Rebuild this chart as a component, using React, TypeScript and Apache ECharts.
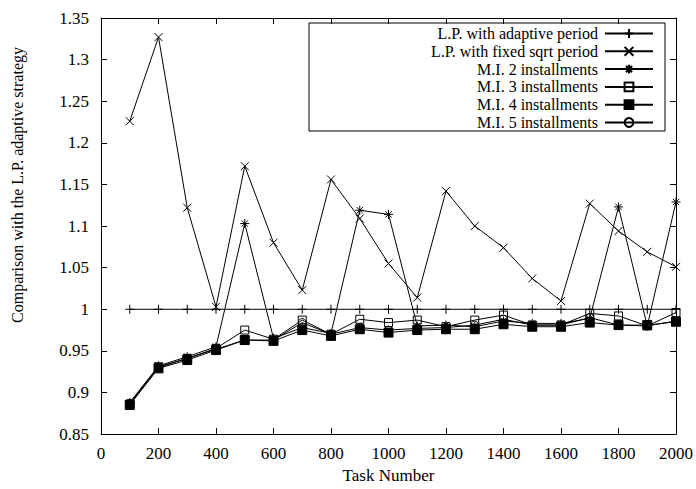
import React, { useEffect, useRef } from "react";
import * as echarts from "echarts";

const taskNumbers = [100, 200, 300, 400, 500, 600, 700, 800, 900, 1000, 1100, 1200, 1300, 1400, 1500, 1600, 1700, 1800, 1900, 2000];
const adaptive = [1, 1, 1, 1, 1, 1, 1, 1, 1, 1, 1, 1, 1, 1, 1, 1, 1, 1, 1, 1];
const sqrtPeriod = [1.226, 1.327, 1.122, 1.003, 1.172, 1.080, 1.023, 1.156, 1.109, 1.055, 1.014, 1.142, 1.100, 1.074, 1.037, 1.010, 1.127, 1.094, 1.069, 1.051];
const mi2 = [0.888, 0.932, 0.943, 0.955, 1.103, 0.965, 0.978, 0.971, 1.119, 1.114, 0.980, 0.981, 0.979, 0.986, 0.983, 0.983, 0.989, 1.123, 0.980, 1.129];
const mi3 = [0.886, 0.931, 0.941, 0.953, 0.975, 0.964, 0.987, 0.970, 0.988, 0.984, 0.987, 0.979, 0.987, 0.993, 0.981, 0.981, 0.995, 0.992, 0.980, 0.996];
const mi4 = [0.885, 0.929, 0.939, 0.951, 0.963, 0.962, 0.975, 0.968, 0.976, 0.972, 0.975, 0.976, 0.976, 0.982, 0.979, 0.979, 0.984, 0.981, 0.981, 0.985];
const mi5 = [0.887, 0.930, 0.941, 0.952, 0.963, 0.963, 0.984, 0.970, 0.978, 0.975, 0.977, 0.978, 0.981, 0.988, 0.981, 0.981, 0.990, 0.981, 0.980, 0.986];

const seriesNames = [
  "L.P. with adaptive period",
  "L.P. with fixed sqrt period",
  "M.I. 2 installments",
  "M.I. 3 installments",
  "M.I. 4 installments",
  "M.I. 5 installments",
];
const seriesValues = [adaptive, sqrtPeriod, mi2, mi3, mi4, mi5];

const xTitle = "Task Number";
const yTitle = "Comparison with the L.P. adaptive strategy";

const FONT = "Liberation Serif";

const symbolDefs = [
  { symbol: "path://M5,0L5,10M0,5L10,5", size: 9, fill: "#000" },
  { symbol: "path://M0,0L10,10M10,0L0,10", size: 8, fill: "#000" },
  { symbol: "path://M5,0L5,10M0,5L10,5M1.5,1.5L8.5,8.5M8.5,1.5L1.5,8.5", size: 9, fill: "#000" },
  { symbol: "rect", size: 8, fill: "rgba(0,0,0,0)" },
  { symbol: "rect", size: 9, fill: "#000" },
  { symbol: "circle", size: 8, fill: "rgba(0,0,0,0)" },
];

export default function App() {
  const ref = useRef<HTMLDivElement>(null);
  useEffect(() => {
    if (!ref.current) return;
    const chart = echarts.init(ref.current, undefined, { renderer: "svg" });
    const series = seriesNames.map((name, i) => ({
      name,
      type: "line",
      data: taskNumbers.map((x, j) => [x, seriesValues[i][j]]),
      symbol: symbolDefs[i].symbol,
      symbolSize: symbolDefs[i].size,
      showAllSymbol: true,
      lineStyle: { color: "#000", width: 1 },
      itemStyle: { color: symbolDefs[i].fill, borderColor: "#000", borderWidth: 1 },
      emphasis: { disabled: true },
      z: 2 + i,
    }));
    const rowCenters = [33, 50.8, 68.6, 86.4, 104.2, 122];
    const legends = seriesNames.map((name, i) => ({
      data: [name],
      orient: "vertical",
      right: 42,
      top: rowCenters[i] - 7.5,
      padding: 0,
      align: "right",
      itemWidth: 48,
      itemHeight: 11,
      selectedMode: false,
      textStyle: { fontFamily: FONT, fontSize: 16, lineHeight: 15, color: "#000", padding: [0, 2, 0, 0] },
    }));
    const axisCommon = {
      axisLine: { show: true, onZero: false, lineStyle: { color: "#000", width: 1 } },
      axisTick: { show: true, inside: true, length: 6, lineStyle: { color: "#000", width: 1 } },
      splitLine: { show: false },
    };
    chart.setOption({
      animation: false,
      backgroundColor: "#fff",
      grid: { left: 101, right: 20, top: 18, bottom: 51, containLabel: false },
      legend: legends,
      xAxis: [
        {
          type: "value",
          min: 0,
          max: 2000,
          interval: 200,
          position: "bottom",
          name: xTitle,
          nameLocation: "middle",
          nameGap: 32,
          nameTextStyle: { fontFamily: FONT, fontSize: 17, color: "#000" },
          axisLabel: { fontFamily: FONT, fontSize: 17, color: "#000", margin: 11, formatter: (v: number) => String(v) },
          ...axisCommon,
        },
        {
          type: "value",
          min: 0,
          max: 2000,
          interval: 200,
          position: "top",
          axisLabel: { show: false },
          ...axisCommon,
        },
      ],
      yAxis: [
        {
          type: "value",
          min: 0.85,
          max: 1.35,
          interval: 0.05,
          position: "left",
          axisLabel: { fontFamily: FONT, fontSize: 17, color: "#000", margin: 12 },
          ...axisCommon,
        },
        {
          type: "value",
          min: 0.85,
          max: 1.35,
          interval: 0.05,
          position: "right",
          axisLabel: { show: false },
          ...axisCommon,
        },
      ],
      graphic: [
        {
          type: "rect",
          shape: { x: 309, y: 23, width: 356, height: 108 },
          style: { fill: "none", stroke: "#000", lineWidth: 1 },
          z: 1,
        },
        {
          type: "text",
          x: 17,
          y: 185,
          rotation: Math.PI / 2,
          style: {
            text: yTitle,
            fontFamily: FONT,
            fontSize: 16,
            fill: "#000",
            textAlign: "center",
            textVerticalAlign: "middle",
          },
        },
      ],
      series,
    });
    return () => chart.dispose();
  }, []);
  return <div ref={ref} style={{ position: "fixed", left: 0, top: 0, width: 696, height: 489 }} />;
}
